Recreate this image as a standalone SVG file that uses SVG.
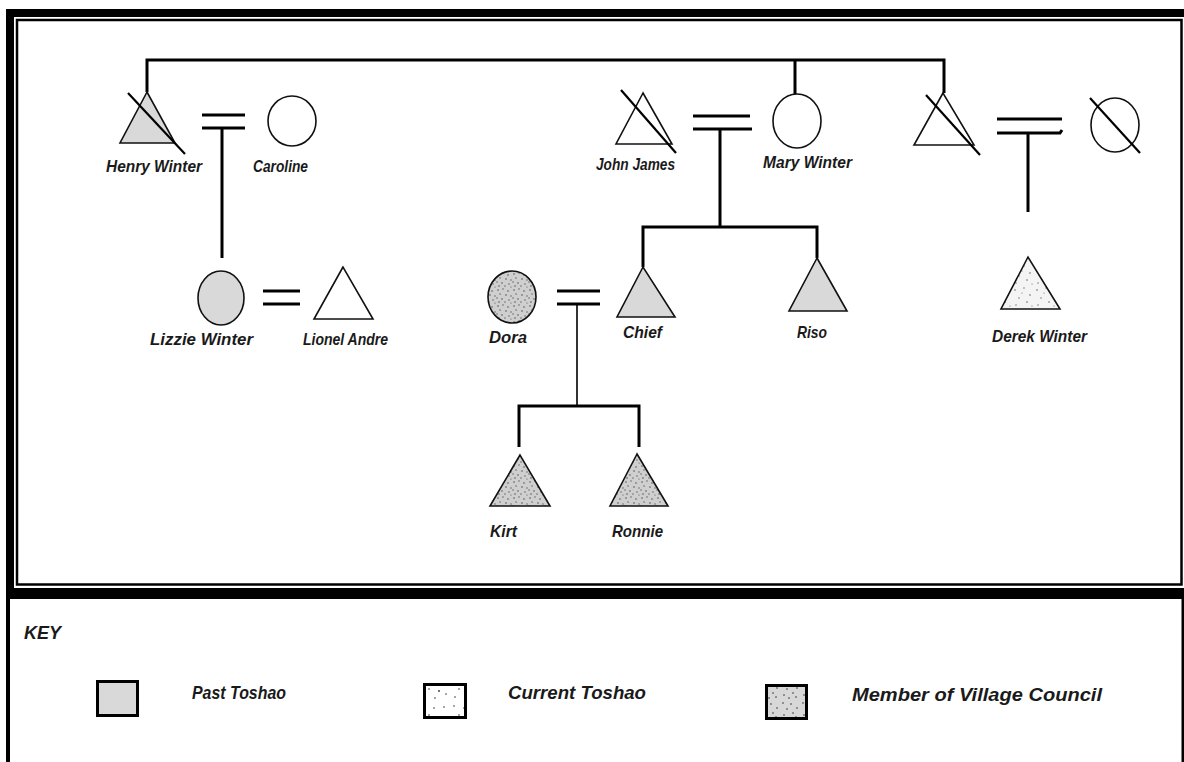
<svg xmlns="http://www.w3.org/2000/svg" width="1184" height="762" viewBox="0 0 1184 762">
<style>
.lbl{font-family:"Liberation Sans",Arial,sans-serif;font-weight:bold;font-style:italic;font-size:17px;fill:#1a1a1a}
.key{font-family:"Liberation Sans",Arial,sans-serif;font-weight:bold;font-style:italic;font-size:18px;fill:#1a1a1a}
.ln{stroke:#000;stroke-width:3;fill:none}
.thin{stroke:#000;stroke-width:1.6;fill:none}
.sym{stroke:#111;stroke-width:1.6}
.strike{stroke:#000;stroke-width:2.2}
.past{fill:#d9d9d9}
.none{fill:#fff}
</style>
<defs>
<pattern id="sparse" width="22" height="22" patternUnits="userSpaceOnUse">
<rect width="22" height="22" fill="#f4f4f4"/>
<g fill="#666">
<circle cx="3" cy="4" r="0.8"/><circle cx="12" cy="2" r="0.7"/><circle cx="18" cy="9" r="0.8"/>
<circle cx="7" cy="12" r="0.7"/><circle cx="15" cy="16" r="0.8"/><circle cx="4" cy="19" r="0.7"/>
<circle cx="20" cy="20" r="0.6"/><circle cx="10" cy="7" r="0.6"/>
</g>
</pattern>
<pattern id="dense" width="16" height="16" patternUnits="userSpaceOnUse">
<rect width="16" height="16" fill="#cfcfcf"/>
<g fill="#555">
<circle cx="2" cy="2" r="0.8"/><circle cx="7" cy="1" r="0.7"/><circle cx="12" cy="3" r="0.8"/>
<circle cx="4" cy="6" r="0.7"/><circle cx="10" cy="7" r="0.8"/><circle cx="15" cy="8" r="0.7"/>
<circle cx="1" cy="10" r="0.7"/><circle cx="6" cy="11" r="0.8"/><circle cx="13" cy="12" r="0.7"/>
<circle cx="3" cy="14" r="0.8"/><circle cx="9" cy="14" r="0.7"/><circle cx="15" cy="15" r="0.6"/>
</g>
</pattern>
<pattern id="keysparse" width="30" height="26" patternUnits="userSpaceOnUse">
<rect width="30" height="26" fill="#fff"/>
<g fill="#333">
<circle cx="4" cy="4" r="0.8"/><circle cx="14" cy="6" r="0.8"/><circle cx="24" cy="5" r="0.8"/>
<circle cx="9" cy="13" r="0.8"/><circle cx="19" cy="15" r="0.9"/><circle cx="26" cy="18" r="0.8"/>
<circle cx="5" cy="21" r="0.8"/><circle cx="15" cy="22" r="0.8"/>
</g>
</pattern>
<pattern id="keydense" width="20" height="20" patternUnits="userSpaceOnUse">
<rect width="20" height="20" fill="#d8d8d8"/>
<g fill="#333">
<circle cx="3" cy="3" r="0.8"/><circle cx="11" cy="4" r="0.8"/><circle cx="17" cy="8" r="0.8"/>
<circle cx="7" cy="9" r="0.8"/><circle cx="13" cy="13" r="0.8"/><circle cx="4" cy="15" r="0.8"/>
<circle cx="16" cy="17" r="0.8"/><circle cx="9" cy="18" r="0.8"/>
</g>
</pattern>
</defs>
<rect width="1184" height="762" fill="#fff"/>
<g id="frame">
<rect x="6" y="9" width="1178" height="8" fill="#000"/>
<rect x="6" y="9" width="8" height="590" fill="#000"/>
<rect x="17" y="20" width="1164.5" height="564.5" fill="none" stroke="#000" stroke-width="2.5"/>
<rect x="6" y="588" width="1178" height="11" fill="#000"/>
<rect x="6" y="599" width="4" height="163" fill="#000"/>
<rect x="1181.5" y="599" width="2.5" height="163" fill="#000"/>
</g>
<g id="connectors">
<path class="ln" d="M147,92 V60 H944 V93 M795,60 V97"/>
<path class="ln" d="M202,115 H245 M202,128 H245 M222,128 V258"/>
<path class="ln" d="M263,291 H300 M263,304 H300"/>
<path class="ln" d="M693,116 H750 M693,129 H752 M720,129 V227 M643,267 V227 H817 V258"/>
<path class="ln" d="M997,119 H1062 M997,133 H1060 l2,-3 M1028,133 V212"/>
<path class="ln" d="M557,291 H600 M557,304 H600"/>
<path class="thin" d="M577,304 V406"/>
<path class="ln" d="M519,447 V406 H639 V447"/>
</g>
<g id="henry">
<polygon class="sym past" points="147,92 120,143 175,143"/>
<line class="strike" x1="128" y1="93" x2="185" y2="154"/>
<text class="lbl" x="106" y="172" textLength="96" lengthAdjust="spacingAndGlyphs">Henry Winter</text>
</g>
<g id="caroline">
<ellipse class="sym none" cx="292" cy="121" rx="24" ry="25"/>
<text class="lbl" x="253" y="172" textLength="55" lengthAdjust="spacingAndGlyphs">Caroline</text>
</g>
<g id="john">
<polygon class="sym none" points="643,93 616,144 672,144"/>
<line class="strike" x1="621" y1="90" x2="676" y2="153"/>
<text class="lbl" x="596" y="170" textLength="79" lengthAdjust="spacingAndGlyphs">John James</text>
</g>
<g id="mary">
<ellipse class="sym none" cx="797" cy="121" rx="24" ry="27"/>
<text class="lbl" x="763" y="168" textLength="89" lengthAdjust="spacingAndGlyphs">Mary Winter</text>
</g>
<g id="brother">
<polygon class="sym none" points="943,93 914,145 974,145"/>
<line class="strike" x1="926" y1="95" x2="980" y2="155"/>
</g>
<g id="wife">
<ellipse class="sym none" cx="1115" cy="125" rx="24" ry="27"/>
<line class="strike" x1="1090" y1="98" x2="1140" y2="153"/>
</g>
<g id="lizzie">
<ellipse class="sym past" cx="221" cy="298" rx="23" ry="27"/>
<text class="lbl" x="150" y="345" textLength="103" lengthAdjust="spacingAndGlyphs">Lizzie Winter</text>
</g>
<g id="lionel">
<polygon class="sym none" points="343,267 314,319 373,319"/>
<text class="lbl" x="303" y="345" textLength="85" lengthAdjust="spacingAndGlyphs">Lionel Andre</text>
</g>
<g id="dora">
<ellipse class="sym" fill="url(#dense)" cx="512" cy="297" rx="24" ry="26"/>
<text class="lbl" x="489" y="343" textLength="38" lengthAdjust="spacingAndGlyphs">Dora</text>
</g>
<g id="chief">
<polygon class="sym past" points="643,267 617,317 675,317"/>
<text class="lbl" x="623" y="338" textLength="39" lengthAdjust="spacingAndGlyphs">Chief</text>
</g>
<g id="riso">
<polygon class="sym past" points="817,258 789,311 847,311"/>
<text class="lbl" x="797" y="338" textLength="30" lengthAdjust="spacingAndGlyphs">Riso</text>
</g>
<g id="derek">
<polygon class="sym" fill="url(#sparse)" points="1028,257 1001,309 1060,309"/>
<text class="lbl" x="992" y="342" textLength="95" lengthAdjust="spacingAndGlyphs">Derek Winter</text>
</g>
<g id="kirt">
<polygon class="sym" fill="url(#dense)" points="520,455 490,506 550,506"/>
<text class="lbl" x="490" y="537" textLength="27" lengthAdjust="spacingAndGlyphs">Kirt</text>
</g>
<g id="ronnie">
<polygon class="sym" fill="url(#dense)" points="637,454 610,506 668,506"/>
<text class="lbl" x="612" y="537" textLength="51" lengthAdjust="spacingAndGlyphs">Ronnie</text>
</g>
<g id="legend">
<text class="key" x="24" y="639" textLength="37" lengthAdjust="spacingAndGlyphs">KEY</text>
<rect x="97.5" y="681.5" width="40" height="34" fill="#d9d9d9" stroke="#000" stroke-width="3"/>
<text class="key" x="192" y="699" textLength="94" lengthAdjust="spacingAndGlyphs">Past Toshao</text>
<rect x="424.5" y="684.5" width="41" height="33" fill="url(#keysparse)" stroke="#000" stroke-width="3"/>
<text class="key" x="508" y="699" textLength="138" lengthAdjust="spacingAndGlyphs">Current Toshao</text>
<rect x="766.5" y="685.5" width="40" height="33" fill="url(#keydense)" stroke="#000" stroke-width="3"/>
<text class="key" x="852" y="701" textLength="250" lengthAdjust="spacingAndGlyphs">Member of Village Council</text>
</g>
</svg>
